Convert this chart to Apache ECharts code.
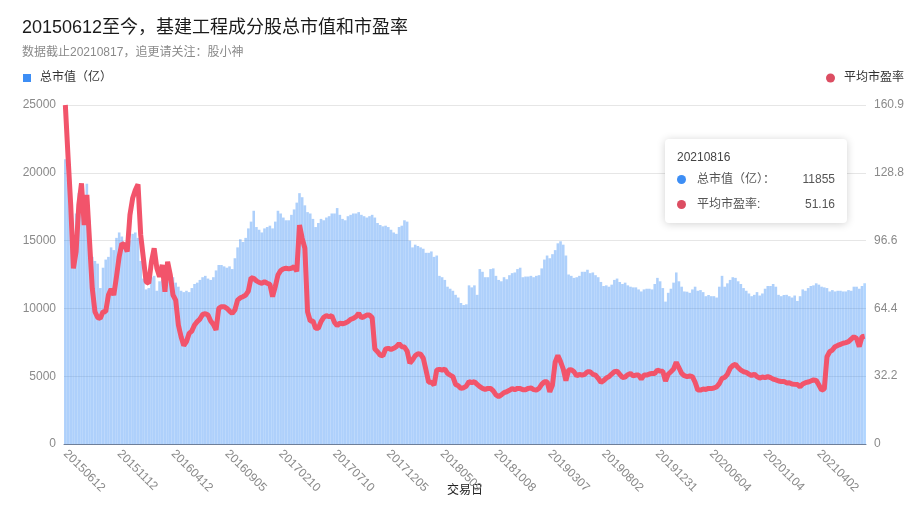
<!DOCTYPE html>
<html>
<head>
<meta charset="utf-8">
<script src="https://cdn.jsdelivr.net/npm/echarts@6/dist/echarts.min.js"></script>
<style>
html,body{margin:0;padding:0;background:#fff;}
#c{width:924px;height:526px;}
</style>
</head>
<body>
<div id="c"></div>
<script>
var FONT = '"Liberation Sans", "Noto Sans CJK SC", sans-serif';

var titleText = '20150612至今，基建工程成分股总市值和市盈率';
var subText = '数据截止20210817，追更请关注：股小神';
var mvName = '总市值（亿）';
var peName = '平均市盈率';
var xName = '交易日';

var dates = [
'20150612','20150619','20150626','20150706','20150713','20150720','20150727','20150803','20150810','20150817','20150824','20150831','20150909','20150916','20150923','20150930','20151014','20151021','20151028','20151104',
'20151112','20151119','20151126','20151203','20151210','20151217','20151224','20151231','20160108','20160115','20160122','20160129','20160205','20160222','20160229','20160307','20160314','20160321','20160328','20160405',
'20160412','20160419','20160426','20160504','20160511','20160518','20160525','20160601','20160608','20160616','20160623','20160630','20160707','20160714','20160721','20160728','20160804','20160811','20160818','20160826',
'20160905','20160912','20160920','20160927','20161011','20161018','20161025','20161101','20161108','20161115','20161122','20161129','20161206','20161213','20161220','20161227','20170104','20170111','20170118','20170125',
'20170210','20170217','20170224','20170303','20170310','20170317','20170324','20170331','20170410','20170417','20170424','20170502','20170509','20170516','20170523','20170601','20170608','20170615','20170622','20170629',
'20170710','20170717','20170724','20170731','20170807','20170814','20170821','20170828','20170904','20170911','20170918','20170925','20171010','20171017','20171024','20171031','20171107','20171114','20171121','20171128',
'20171205','20171212','20171219','20171226','20180103','20180110','20180117','20180124','20180131','20180207','20180214','20180228','20180307','20180314','20180321','20180328','20180404','20180413','20180420','20180427',
'20180509','20180516','20180523','20180530','20180606','20180613','20180621','20180628','20180705','20180712','20180719','20180726','20180802','20180809','20180816','20180823','20180830','20180906','20180913','20180920',
'20181008','20181015','20181022','20181029','20181105','20181112','20181119','20181126','20181203','20181210','20181217','20181224','20190102','20190109','20190116','20190123','20190130','20190213','20190220','20190227',
'20190307','20190314','20190321','20190328','20190404','20190412','20190419','20190426','20190508','20190515','20190522','20190529','20190605','20190613','20190620','20190627','20190704','20190711','20190718','20190725',
'20190802','20190809','20190816','20190823','20190830','20190906','20190916','20190923','20190930','20191014','20191021','20191028','20191104','20191111','20191118','20191125','20191202','20191209','20191216','20191223',
'20191231','20200108','20200115','20200122','20200205','20200212','20200219','20200226','20200304','20200311','20200318','20200325','20200401','20200409','20200416','20200423','20200430','20200512','20200519','20200526',
'20200604','20200611','20200618','20200629','20200706','20200713','20200720','20200727','20200803','20200810','20200817','20200824','20200831','20200907','20200914','20200921','20200928','20201012','20201019','20201026',
'20201104','20201111','20201118','20201125','20201202','20201209','20201216','20201223','20201230','20210107','20210114','20210121','20210128','20210204','20210218','20210225','20210304','20210311','20210318','20210325',
'20210402','20210409','20210416','20210423','20210506','20210513','20210520','20210527','20210603','20210610','20210618','20210625','20210702','20210709','20210716','20210723','20210802','20210816'
];

var marketValue = [
21000,19500,18000,14500,17000,18500,19000,18000,19200,16500,
13800,13500,13300,11500,13000,13600,13800,14500,14300,15200,
15600,15300,14900,14600,15000,15500,15600,15200,13500,12200,
11400,11500,12300,12400,11300,12000,12100,11500,12000,11900,
12300,11900,11600,11300,11200,11300,11200,11500,11800,11900,
12100,12300,12400,12200,12100,12300,12800,13200,13200,13100,
13000,13100,12900,13700,14500,15100,14900,15200,15900,16400,
17200,16000,15800,15600,15900,16000,16100,15900,16400,17200,
17000,16700,16500,16500,16900,17300,17800,18500,18200,17600,
17100,17000,16600,16000,16300,16600,16500,16700,16800,17000,
17000,17400,16900,16600,16500,16800,16900,17000,17000,17100,
16900,16800,16700,16800,16900,16700,16300,16150,16050,16100,
16000,15800,15600,15500,16000,16100,16500,16400,15000,14500,
14700,14600,14500,14400,14100,14100,14200,13800,13900,12400,
12300,12100,11600,11450,11300,11000,10800,10400,10250,10300,
11700,11550,11700,11000,12900,12700,12300,12300,12900,12950,
12400,12100,12000,12300,12150,12450,12600,12650,12900,13000,
12300,12350,12350,12400,12300,12400,12450,12950,13600,13900,
13700,14000,14300,14800,14950,14700,13900,12500,12400,12250,
12300,12400,12700,12700,12850,12600,12650,12450,12300,11950,
11650,11700,11600,11750,12100,12200,11950,11800,11900,11700,
11600,11550,11550,11400,11250,11400,11450,11450,11400,11800,
12250,12000,11500,10500,11150,11450,11900,12650,12000,11600,
11250,11230,11150,11400,11600,11300,11350,11200,10900,10990,
10900,10900,10800,11600,12400,11600,11850,12100,12300,12250,
12000,11800,11500,11300,11100,10900,11000,11200,10950,11100,
11450,11650,11650,11800,11600,11000,10900,10990,11000,10900,
10800,10950,10550,10900,11400,11300,11500,11650,11700,11850,
11750,11600,11550,11500,11250,11350,11250,11300,11300,11250,
11250,11350,11300,11600,11600,11450,11650,11855
];

var peRatio = [
160.9,136.4,113.4,83.4,91.3,113.4,123.7,103.9,118.2,96.0,
73.9,62.8,60.0,59.6,62.8,62.8,70.7,73.6,70.7,79.4,
88.9,95.2,94.4,91.3,108.7,116.6,120.5,123.2,99.2,88.1,
77.0,76.3,86.5,92.9,83.4,79.4,85.0,72.3,86.5,80.2,
70.7,68.3,56.5,50.9,46.7,48.6,52.5,53.6,56.5,58.1,
59.3,61.5,61.9,61.2,58.4,56.8,54.1,64.4,65.2,65.2,
64.4,63.1,62.0,63.6,68.3,69.4,69.9,70.7,72.6,78.9,
78.6,77.4,76.7,76.3,77.0,76.3,75.8,69.9,74.7,80.2,
82.3,83.1,83.4,83.1,83.4,84.2,82.0,103.9,97.6,92.9,
62.8,58.4,58.4,54.9,54.9,58.1,60.1,60.9,60.4,60.9,
57.7,56.2,57.4,57.1,57.4,58.1,59.2,59.6,60.4,62.0,
60.0,60.4,61.2,61.2,60.0,45.1,43.8,42.2,41.8,45.1,
45.4,44.8,45.4,46.2,47.6,46.2,46.0,44.1,38.3,39.9,
41.9,42.9,42.6,40.7,35.1,29.3,29.3,28.0,35.1,35.4,
35.1,35.6,33.5,32.7,32.0,28.3,27.7,26.4,26.7,27.5,
29.6,29.1,29.6,28.3,27.2,26.4,25.9,26.4,26.4,25.2,
23.3,22.5,23.3,24.4,24.8,25.5,26.3,25.8,26.4,26.3,
25.8,25.8,26.4,26.6,25.8,25.6,26.4,28.3,29.6,29.6,
24.8,28.0,38.8,42.0,39.1,35.6,30.1,35.1,35.3,34.3,
32.3,33.1,32.7,33.1,34.3,34.3,33.1,32.7,31.2,29.3,
30.1,31.3,32.0,33.2,34.3,34.6,33.1,31.6,31.8,32.9,
33.5,32.3,32.7,32.7,30.8,32.7,32.7,33.2,33.5,33.5,
35.1,34.6,34.5,29.9,33.1,34.3,35.6,38.8,36.2,33.5,
32.4,32.0,32.3,32.0,29.3,25.6,25.6,26.1,25.9,26.4,
26.3,26.6,27.1,28.6,31.2,31.6,33.1,35.9,37.2,37.8,
36.2,35.1,34.3,34.0,33.2,32.4,33.2,32.0,31.3,31.8,
31.5,32.0,31.5,30.8,30.4,29.9,29.7,29.7,29.0,29.1,
28.5,28.3,28.2,27.2,28.5,29.1,29.4,29.9,30.4,30.2,
28.0,25.6,26.1,41.4,43.8,44.6,46.2,46.8,47.3,47.8,
48.1,48.6,49.8,50.9,50.1,46.2,50.9,51.16
];

var leftTicks = {min: 0, max: 25000, interval: 5000};
var rightTicks = {min: 0, max: 160.9, interval: 32.2};

var BLUE = '#3d8ef5';
var RED = '#dc4d62';

var chart = echarts.init(document.getElementById('c'), null, {renderer: 'canvas'});

var option = {
  animation: false,
  textStyle: {fontFamily: FONT},
  title: {
    text: titleText,
    subtext: subText,
    left: 17,
    top: 14,
    itemGap: 10,
    textStyle: {fontSize: 18, fontWeight: 'normal', color: '#1a1a1a', fontFamily: FONT},
    subtextStyle: {fontSize: 12, color: '#8a8a8a', fontFamily: FONT}
  },
  legend: [
    {
      data: [mvName],
      left: 18,
      top: 67,
      icon: 'rect',
      itemWidth: 8,
      itemHeight: 8,
      itemStyle: {color: BLUE, opacity: 1},
      textStyle: {fontSize: 12, color: '#333', fontFamily: FONT, padding: [0, 0, 0, 4]}
    },
    {
      data: [peName],
      right: 15,
      top: 67,
      icon: 'circle',
      itemWidth: 9,
      itemHeight: 9,
      itemStyle: {color: RED, opacity: 1},
      textStyle: {fontSize: 12, color: '#333', fontFamily: FONT, padding: [0, 0, 0, 4]}
    }
  ],
  tooltip: {
    trigger: 'axis',
    alwaysShowContent: true,
    transitionDuration: 0,
    axisPointer: {type: 'none'},
    backgroundColor: '#fff',
    borderWidth: 0,
    padding: [8, 12, 6, 12],
    extraCssText: 'box-shadow:0 1px 8px rgba(0,0,0,0.18);border-radius:4px;width:158px;',
    position: function () { return [665, 139]; },
    formatter: function (params) {
      var html = '<div style="font-family:' + FONT.replace(/"/g, "'") + ';font-size:12px;color:#555;">';
      html += '<div style="height:20px;line-height:20px;color:#444;">' + params[0].axisValue + '</div>';
      params.forEach(function (p) {
        var color = p.seriesIndex === 0 ? BLUE : RED;
        var label = p.seriesIndex === 0 ? mvName + '：' : peName + ':';
        html += '<div style="height:25px;line-height:25px;display:flex;align-items:center;">' +
          '<span style="display:inline-block;width:9px;height:9px;border-radius:50%;background:' + color + ';margin-right:11px;"></span>' +
          '<span style="flex:1;color:#555;">' + label + '</span>' +
          '<span style="color:#555;">' + p.value + '</span></div>';
      });
      html += '</div>';
      return html;
    }
  },
  grid: {left: 64, right: 58, top: 105, bottom: 82},
  xAxis: {
    type: 'category',
    data: dates,
    name: xName,
    nameLocation: 'middle',
    nameGap: 41,
    nameMoveOverlap: false,
    nameTextStyle: {color: '#222', fontSize: 12, fontFamily: FONT},
    axisTick: {show: false},
    axisLine: {lineStyle: {color: '#6e7f9a'}},
    axisLabel: {
      interval: 19,
      rotate: -45,
      color: '#8a8a8a',
      fontSize: 12,
      fontFamily: FONT
    }
  },
  yAxis: [
    {
      type: 'value',
      min: leftTicks.min,
      max: leftTicks.max,
      interval: leftTicks.interval,
      axisLine: {show: false},
      axisTick: {show: false},
      axisLabel: {
        color: '#8a8a8a', fontSize: 12, fontFamily: FONT,
        formatter: function (v) { return String(v); }
      },
      splitLine: {lineStyle: {color: '#e6e6e6'}}
    },
    {
      type: 'value',
      min: rightTicks.min,
      max: rightTicks.max,
      interval: rightTicks.interval,
      axisLine: {show: false},
      axisTick: {show: false},
      splitLine: {show: false},
      axisLabel: {
        color: '#8a8a8a', fontSize: 12, fontFamily: FONT,
        formatter: function (v) { return v === 0 ? '0' : (Math.round(v * 10) / 10).toFixed(1); }
      }
    }
  ],
  series: [
    {
      name: mvName,
      type: 'bar',
      yAxisIndex: 0,
      data: marketValue,
      barCategoryGap: '4%',
      itemStyle: {color: BLUE, opacity: 0.42}
    },
    {
      name: peName,
      type: 'line',
      yAxisIndex: 1,
      data: peRatio,
      symbol: 'none',
      showSymbol: false,
      lineStyle: {color: RED, width: 5},
      itemStyle: {color: RED}
    }
  ]
};

chart.setOption(option);
chart.dispatchAction({type: 'showTip', seriesIndex: 0, dataIndex: dates.length - 1});
</script>
</body>
</html>
